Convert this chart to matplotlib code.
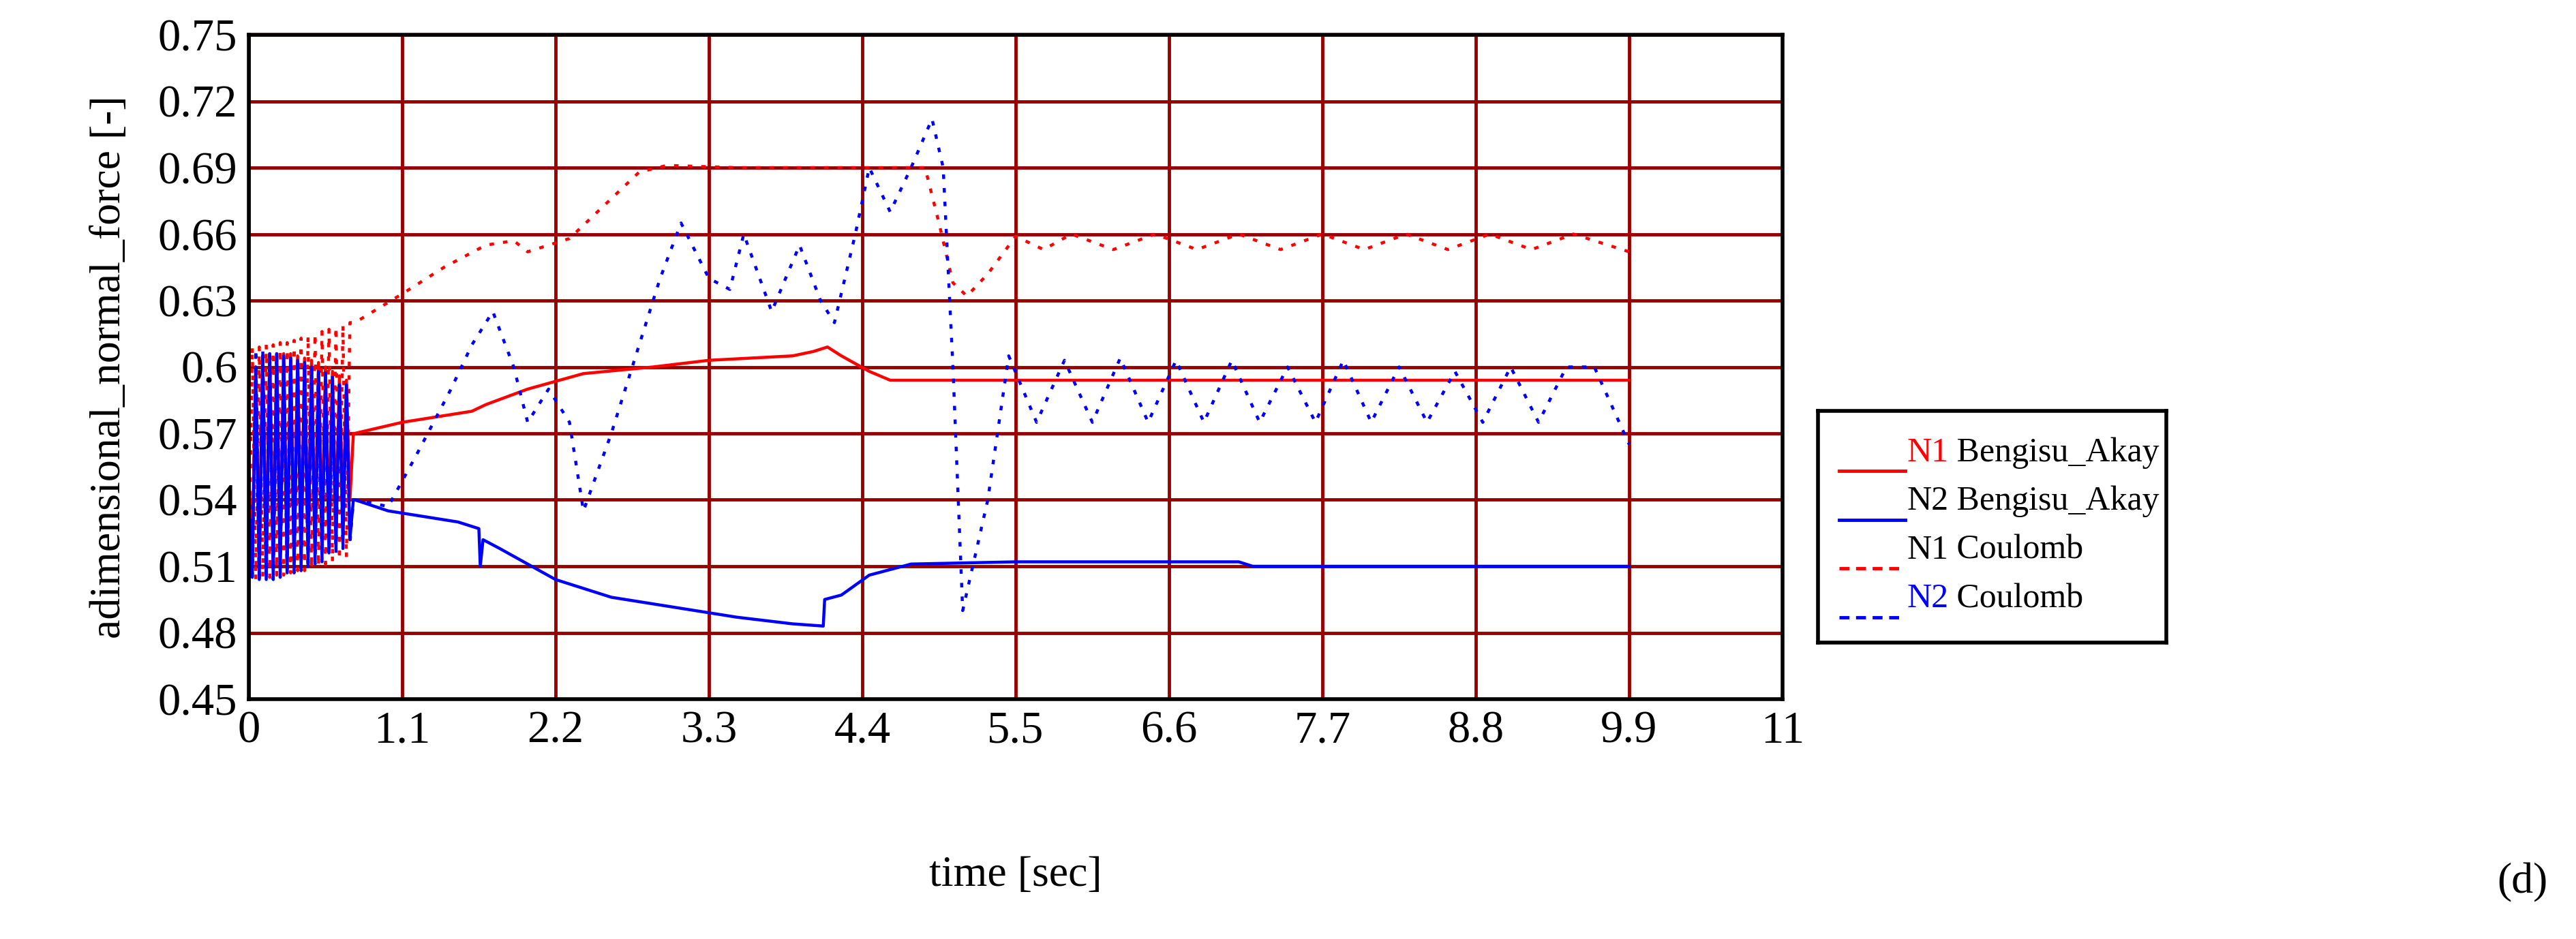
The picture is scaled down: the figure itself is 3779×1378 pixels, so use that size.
import matplotlib.pyplot as plt
from matplotlib.lines import Line2D

plt.rcParams['font.family'] = ['Liberation Serif', 'DejaVu Serif']

# ----- start-up oscillation (0 .. 0.75 s) -----
t_osc = [0.0, 0.025, 0.05, 0.075, 0.1, 0.125, 0.15, 0.175, 0.2, 0.225, 0.25, 0.275,
         0.3, 0.325, 0.35, 0.375, 0.4, 0.425, 0.45, 0.475, 0.5, 0.525, 0.55, 0.575,
         0.6, 0.625, 0.65, 0.675, 0.7, 0.725, 0.75]
n1c_osc = [0.505, 0.609, 0.504, 0.609, 0.505, 0.610, 0.505, 0.610, 0.506, 0.611, 0.506,
           0.611, 0.507, 0.612, 0.508, 0.613, 0.508, 0.614, 0.509, 0.615, 0.510, 0.616,
           0.511, 0.617, 0.512, 0.618, 0.513, 0.619, 0.514, 0.620, 0.620]
n2c_osc = [0.550, 0.503, 0.608, 0.503, 0.608, 0.504, 0.607, 0.504, 0.606, 0.505, 0.605,
           0.506, 0.604, 0.507, 0.603, 0.508, 0.602, 0.509, 0.601, 0.511, 0.600, 0.512,
           0.598, 0.514, 0.596, 0.516, 0.594, 0.518, 0.592, 0.520, 0.540]
n1b_osc = [0.550, 0.520, 0.600, 0.515, 0.605, 0.512, 0.606, 0.512, 0.606, 0.513, 0.606,
           0.514, 0.606, 0.516, 0.605, 0.518, 0.604, 0.520, 0.603, 0.522, 0.602, 0.524,
           0.600, 0.527, 0.598, 0.530, 0.596, 0.534, 0.594, 0.540, 0.570]
n2b_osc = [0.540, 0.505, 0.600, 0.504, 0.605, 0.504, 0.606, 0.505, 0.606, 0.506, 0.605,
           0.507, 0.604, 0.508, 0.603, 0.509, 0.602, 0.510, 0.600, 0.512, 0.598, 0.514,
           0.596, 0.516, 0.594, 0.518, 0.592, 0.520, 0.590, 0.522, 0.540]

# ----- after the start-up -----
t_n1b = [0.76, 1.1, 1.6, 1.7, 2.0, 2.4, 2.9, 3.3, 3.9, 4.05, 4.15, 4.25, 4.45, 4.6, 5.0, 9.9]
v_n1b = [0.570, 0.575, 0.580, 0.583, 0.590, 0.597, 0.600, 0.603, 0.605, 0.607, 0.609,
         0.605, 0.598, 0.594, 0.594, 0.594]

t_n2b = [0.76, 1.0, 1.5, 1.65, 1.66, 1.68, 1.8, 2.2, 2.6, 3.0, 3.5, 3.9, 4.12, 4.13,
         4.25, 4.45, 4.75, 5.5, 7.1, 7.2, 9.9]
v_n2b = [0.540, 0.535, 0.530, 0.527, 0.510, 0.522, 0.518, 0.504, 0.496, 0.492, 0.487,
         0.484, 0.483, 0.495, 0.497, 0.506, 0.511, 0.512, 0.512, 0.510, 0.510]

t_n1c = [0.76, 1.1, 1.4, 1.7, 1.9, 2.0, 2.3, 2.6, 2.8, 3.0, 3.5, 4.0, 4.85, 4.95, 5.05,
         5.15, 5.3, 5.5, 5.7, 5.9, 6.2, 6.5, 6.8, 7.1, 7.4, 7.7, 8.0, 8.3, 8.6,
         8.9, 9.2, 9.5, 9.9]
v_n1c = [0.620, 0.633, 0.645, 0.655, 0.657, 0.652, 0.658, 0.676, 0.688, 0.691, 0.690,
         0.690, 0.690, 0.665, 0.638, 0.632, 0.642, 0.659, 0.653, 0.660, 0.653,
         0.660, 0.653, 0.660, 0.653, 0.660, 0.653, 0.660, 0.653, 0.660, 0.653, 0.660,
         0.652]

t_n2c = [0.76, 1.0, 1.2, 1.45, 1.6, 1.75, 1.9, 2.0, 2.15, 2.3, 2.4, 2.6, 2.75, 2.95,
         3.1, 3.3, 3.45, 3.55, 3.75, 3.95, 4.1, 4.2, 4.35, 4.45, 4.6, 4.75, 4.9, 4.98,
         5.05, 5.12, 5.3, 5.45, 5.65, 5.85, 6.05, 6.25, 6.45, 6.65, 6.85, 7.05, 7.25,
         7.45, 7.65, 7.85, 8.05, 8.25, 8.45, 8.65, 8.85, 9.05, 9.25, 9.45, 9.65, 9.9]
v_n2c = [0.540, 0.537, 0.560, 0.590, 0.610, 0.625, 0.600, 0.575, 0.590, 0.575, 0.535,
         0.570, 0.600, 0.640, 0.665, 0.640, 0.635, 0.660, 0.625, 0.655, 0.630, 0.620,
         0.660, 0.690, 0.670, 0.690, 0.712, 0.690, 0.600, 0.490, 0.540, 0.605,
         0.575, 0.603, 0.575, 0.604, 0.575, 0.603, 0.575, 0.603, 0.575, 0.600, 0.575,
         0.603, 0.575, 0.600, 0.575, 0.598, 0.575, 0.600, 0.575, 0.600, 0.600, 0.565]

x_ticks = [0, 1.1, 2.2, 3.3, 4.4, 5.5, 6.6, 7.7, 8.8, 9.9, 11]
x_tick_labels = ['0', '1.1', '2.2', '3.3', '4.4', '5.5', '6.6', '7.7', '8.8', '9.9', '11']
y_ticks = [0.45, 0.48, 0.51, 0.54, 0.57, 0.6, 0.63, 0.66, 0.69, 0.72, 0.75]
y_tick_labels = ['0.45', '0.48', '0.51', '0.54', '0.57', '0.6', '0.63', '0.66', '0.69', '0.72', '0.75']

RED = '#ff0000'
BLUE = '#0000ff'
GRID = '#990000'

W, H = 3780, 1378
fig = plt.figure(figsize=(W / 100, H / 100), dpi=100)
ax = fig.add_axes([365 / W, 1 - 1026 / H, (2615 - 365) / W, (1026 - 51) / H])

lw = 3.2
ax.plot(t_osc + t_n1c, n1c_osc + v_n1c, color=RED, lw=lw, ls=(0, (1.5, 3)))
ax.plot(t_osc + t_n1b, n1b_osc + v_n1b, color=RED, lw=lw)
ax.plot(t_osc + t_n2c, n2c_osc + v_n2c, color=BLUE, lw=lw, ls=(0, (1.5, 3)))
ax.plot(t_osc + t_n2b, n2b_osc + v_n2b, color=BLUE, lw=lw)

ax.set_xlim(0, 11)
ax.set_ylim(0.45, 0.75)
ax.set_xticks(x_ticks)
ax.set_xticklabels(x_tick_labels)
ax.set_yticks(y_ticks)
ax.set_yticklabels(y_tick_labels)
ax.tick_params(length=0, labelsize=48, pad=12)
ax.grid(True, color=GRID, lw=3.5)
ax.set_axisbelow(True)
for s in ax.spines.values():
    s.set_linewidth(4)
    s.set_color('black')

ax.set_ylabel('adimensional_normal_force [-]', fontsize=46, labelpad=30)
ax.set_xlabel('time [sec]', fontsize=46, labelpad=110)
fig.text(3700 / W, 1 - 1295 / H, '(d)', fontsize=46, ha='center', va='center')

# ----- legend drawn by hand (coloured N1/N2 prefixes) -----
lax = fig.add_axes([2667 / W, 1 - 943 / H, (3178 - 2667) / W, (943 - 603) / H])
lax.set_xlim(0, 1)
lax.set_ylim(0, 1)
lax.set_xticks([])
lax.set_yticks([])
for s in lax.spines.values():
    s.set_linewidth(4)
entries = [
    ('-', RED, 'N1', RED, ' Bengisu_Akay'),
    ('-', BLUE, 'N2', 'black', ' Bengisu_Akay'),
    ((0, (3, 2)), RED, 'N1', 'black', ' Coulomb'),
    ((0, (3, 2)), BLUE, 'N2', BLUE, ' Coulomb'),
]
ys = [0.74, 0.53, 0.32, 0.11]
for (ls, c, pre, pc, rest), y in zip(entries, ys):
    lax.add_line(Line2D([0.06, 0.25], [y, y], color=c, lw=3.5, ls=ls))
    t = lax.text(0.255, y + 0.01, pre, color=pc, fontsize=36, va='bottom')
    fig.canvas.draw()
    bb = t.get_window_extent().transformed(lax.transData.inverted())
    lax.text(bb.x1, y + 0.01, rest, color='black', fontsize=36, va='bottom')

fig.savefig('out.png', dpi=100)
